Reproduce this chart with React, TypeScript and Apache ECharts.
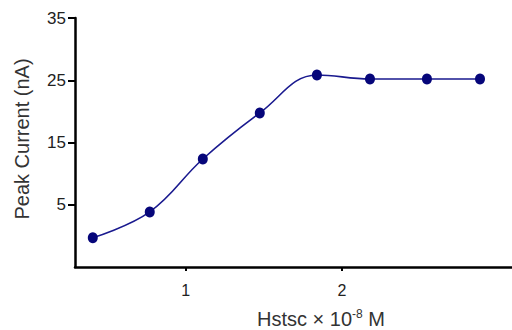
import React, { useEffect, useRef } from "react";
import * as echarts from "echarts";

const concentration = [0.404, 0.769, 1.109, 1.474, 1.84, 2.18, 2.545, 2.885];
const peakCurrent = [-0.3, 3.85, 12.35, 19.75, 25.85, 25.2, 25.2, 25.2];
const yTicks = [5, 15, 25, 35];
const xTicks = [1, 2];
const xTitle = "Hstsc × 10";
const xTitleSup = "-8";
const xTitleEnd = " M";
const yTitle = "Peak Current (nA)";

const FONT = "Liberation Sans, Arial, Helvetica, sans-serif";

export default function App() {
  const ref = useRef<HTMLDivElement>(null);
  useEffect(() => {
    if (!ref.current) return;
    const chart = echarts.init(ref.current, null, { renderer: "svg" });
    chart.setOption({
      animation: false,
      backgroundColor: "#ffffff",
      grid: { left: 75, right: 0, top: 18, bottom: 63, containLabel: false },
      xAxis: {
        type: "value",
        min: 0.29,
        max: 3.09,
        axisLine: { show: true, onZero: false, lineStyle: { color: "#000", width: 2.5 } },
        axisTick: {
          show: true,
          inside: false,
          length: 4,
          customValues: xTicks,
          lineStyle: { color: "#000", width: 2 },
        },
        axisLabel: {
          customValues: xTicks,
          color: "#222",
          fontFamily: FONT,
          fontSize: 16,
          margin: 15,
        },
        splitLine: { show: false },
      },
      yAxis: {
        type: "value",
        min: -5,
        max: 35,
        axisLine: { show: true, onZero: false, lineStyle: { color: "#000", width: 2.5 } },
        axisTick: {
          show: true,
          length: 7,
          customValues: yTicks,
          lineStyle: { color: "#000", width: 2 },
        },
        axisLabel: {
          customValues: yTicks,
          color: "#222",
          fontFamily: FONT,
          fontSize: 17,
          margin: 9,
        },
        splitLine: { show: false },
      },
      series: [
        {
          type: "line",
          data: concentration.map((x, i) => [x, peakCurrent[i]]),
          smooth: 0.4,
          symbol: "circle",
          symbolSize: [10, 11],
          itemStyle: { color: "#06067a" },
          lineStyle: { color: "#1a1a8f", width: 1.6 },
        },
      ],
      graphic: [
        {
          type: "text",
          x: 22,
          y: 139,
          rotation: Math.PI / 2,
          style: {
            text: yTitle,
            fontFamily: FONT,
            fontSize: 20,
            fill: "#333",
            align: "center",
            verticalAlign: "middle",
          },
        },
        {
          type: "text",
          x: 321,
          y: 319,
          style: {
            text: `{a|${xTitle}}{b|${xTitleSup}}{a|${xTitleEnd}}`,
            align: "center",
            verticalAlign: "middle",
            rich: {
              a: { fontFamily: FONT, fontSize: 20, fill: "#333", lineHeight: 22 },
              b: { fontFamily: FONT, fontSize: 12, fill: "#333", verticalAlign: "top", lineHeight: 22 },
            },
          },
        },
      ],
    });
    return () => chart.dispose();
  }, []);
  return <div ref={ref} style={{ width: 512, height: 330, position: "absolute", left: 0, top: 0 }} />;
}
